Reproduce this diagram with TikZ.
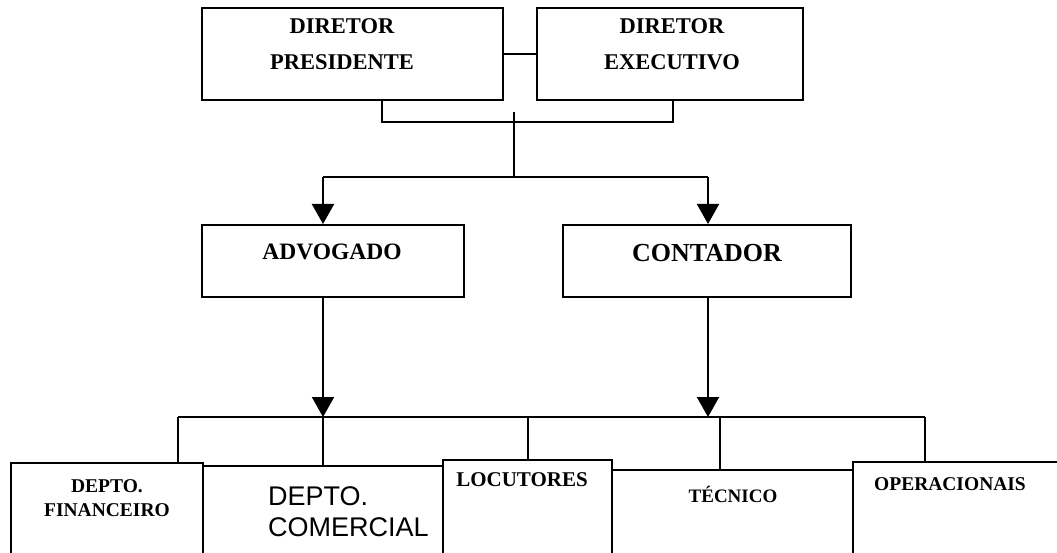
\documentclass[tikz,border=0pt]{standalone}
\usepackage{fontspec}
\setmainfont{Liberation Serif}
\newfontfamily\arialfont{Liberation Sans}
\usetikzlibrary{arrows.meta,positioning}

\tikzset{
  orgbox/.style={draw, line width=2pt, inner sep=0pt},
  txt/.style 2 args={align=center, inner sep=0pt, font=\bfseries\fontsize{#1}{#2}\selectfont},
  link/.style={line width=2pt},
  down/.style={link, -{Triangle[width=22pt,length=20pt]}}
}

\begin{document}
\begin{tikzpicture}[x=1pt, y=-1pt]
    \clip (0,0) rectangle (1057,553);

    % Draw the two directors at the top
    \node[orgbox, minimum width=301pt, minimum height=92pt] (pres) at (352.5,54) {};
    \node[txt={22.5}{36}] (prestxt) at (342,44) {DIRETOR\\PRESIDENTE};
    \node[orgbox, minimum width=266pt, minimum height=92pt] (exec) at (670,54) {};
    \node[txt={22.5}{36}] (exectxt) at (672,44) {DIRETOR\\EXECUTIVO};
    \draw[link] (pres.east) -- (exec.west);

    % Bracket under the directors
    \coordinate (join) at (514,122);
    \coordinate (stub) at (514,112);
    \coordinate (split) at (514,177);
    \draw[link] ([xshift=29.5pt]pres.south) |- (join) -| ([xshift=3pt]exec.south);
    \draw[link] (stub) -- (split);

    % Draw the second level
    \node[orgbox, minimum width=262pt, minimum height=72pt] (adv) at (333,261) {};
    \node[txt={23.5}{28}] (advtxt) at (332,252) {ADVOGADO};
    \node[orgbox, minimum width=288pt, minimum height=72pt] (cont) at (707,261) {};
    \node[txt={26}{30}] (conttxt) at (707,253) {CONTADOR};

    \coordinate (advin) at (323,177);
    \coordinate (contin) at (708,177);
    \draw[link] (advin) -- (contin);
    \draw[down] (advin) -- (advin |- adv.north);
    \draw[down] (contin) -- (contin |- cont.north);

    % Lower bus to the departments
    \coordinate (advout) at (323,417);
    \coordinate (contout) at (708,417);
    \coordinate (busl) at (178,417);
    \coordinate (locin) at (528,417);
    \coordinate (tecin) at (720,417);
    \coordinate (busr) at (925,417);
    \draw[down] (advout |- adv.south) -- (advout);
    \draw[down] (contout |- cont.south) -- (contout);
    \draw[link] (busl) -- (busr);

    % Draw the departments (cut off by the page bottom)
    \node[orgbox, minimum width=192pt, minimum height=140pt] (fin) at (107,533) {};
    \node[orgbox, minimum width=240pt, minimum height=140pt] (com) at (323,536) {};
    \node[orgbox, minimum width=169pt, minimum height=140pt] (loc) at (527.5,530) {};
    \node[orgbox, minimum width=241pt, minimum height=140pt] (tec) at (732.5,540) {};
    \node[orgbox, minimum width=230pt, minimum height=140pt] (ope) at (968,532) {};

    \draw[link] (busl) -- (busl |- fin.north);
    \draw[link] (advout) -- (advout |- com.north);
    \draw[link] (locin) -- (locin |- loc.north);
    \draw[link] (tecin) -- (tecin |- tec.north);
    \draw[link] (busr) -- (busr |- ope.north);

    \node[txt={19.5}{24}] (fintxt) at (107,498) {DEPTO.\\FINANCEIRO};
    \node[align=left, anchor=west, inner sep=0pt, font=\arialfont\fontsize{27}{31}\selectfont] (comtxt) at (268,511.5) {DEPTO.\\COMERCIAL};
    \node[txt={21}{25}] (loctxt) at (522,480) {LOCUTORES};
    \node[txt={19}{23}] (tectxt) at (733,494) {TÉCNICO};
    \node[txt={19.5}{24}] (opetxt) at (950,484) {OPERACIONAIS};
\end{tikzpicture}
\end{document}
